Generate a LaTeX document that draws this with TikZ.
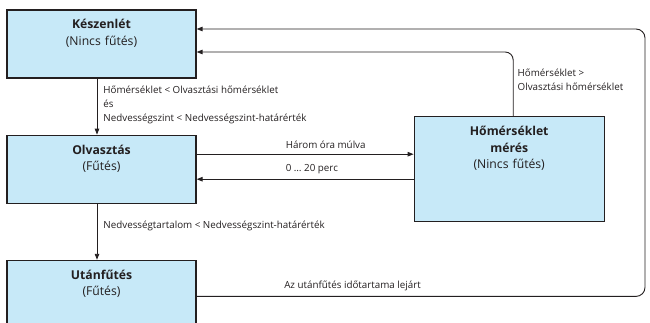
\documentclass[tikz,border=0pt]{standalone}
\usepackage{fontspec}
\setmainfont{Open Sans}
\usetikzlibrary{positioning,arrows.meta}
\definecolor{zustandfill}{RGB}{199,233,248}
\definecolor{linie}{RGB}{35,31,32}

\begin{document}
\begin{tikzpicture}[x=1pt,y=-1pt,node distance=56pt,
    zustand/.style={draw=linie, line width=1.2pt, fill=zustandfill, text=linie,
      text width=189pt, align=center, inner sep=0pt, text height=19pt, text depth=49pt,
      font=\fontsize{12.2}{16.5}\selectfont},
    uebergang/.style={draw=linie, line width=0.9pt, -{Triangle[length=6pt,width=4.5pt]}},
    bed/.style={font=\fontsize{9.8}{14}\selectfont, text=linie, align=left, inner sep=2pt}]
  \useasboundingbox (0,0) rectangle (650,323);
  \node[zustand] (keszenlet) at (101.5,44) {\textbf{Készenlét}\\(Nincs fűtés)};
  \node[zustand, below=of keszenlet] (olvasztas) {\textbf{Olvasztás}\\(Fűtés)};
  \node[zustand, below=of olvasztas] (utanfutes) {\textbf{Utánfűtés}\\(Fűtés)};
  \node[zustand, text width=190pt, text depth=86pt, right=217pt of olvasztas] (meres)
    {\textbf{Hőmérséklet}\\\textbf{mérés}\\(Nincs fűtés)};

  \coordinate (k1) at ([yshift=15pt]keszenlet.east);
  \coordinate (k2) at ([yshift=-8pt]keszenlet.east);
  \coordinate (o1) at ([yshift=15pt]olvasztas.east);
  \coordinate (o2) at ([yshift=-10pt]olvasztas.east);
  \coordinate (u1) at ([yshift=-2pt]utanfutes.east);
  \coordinate (rechts) at (645,0);

  \draw[uebergang] ([xshift=-4.5pt]keszenlet.south) -- ([xshift=-4.5pt]olvasztas.north)
    node[bed, midway, right=4pt, yshift=1.5pt] {Hőmérséklet < Olvasztási hőmérséklet\\és\\Nedvességszint < Nedvességszint-határérték};
  \draw[uebergang] ([xshift=-4.5pt]olvasztas.south) -- ([xshift=-4.5pt]utanfutes.north)
    node[bed, midway, right=4pt, yshift=6pt] {Nedvességtartalom < Nedvességszint-határérték};
  \draw[uebergang] (o1) -- (o1 -| meres.west)
    node[bed, pos=0.4, anchor=south west, yshift=3pt] {Három óra múlva};
  \draw[uebergang] (o2 -| meres.west) -- (o2)
    node[bed, pos=0.6, anchor=south west, yshift=3pt] {0 … 20 perc};
  \draw[uebergang, rounded corners=8pt] ([xshift=4pt]meres.north) |- (k2)
    node[bed, pos=0.28, right=2pt] {Hőmérséklet >\\Olvasztási hőmérséklet};
  \draw[uebergang, rounded corners=9pt] (u1)
    -- node[bed, pos=0.19, anchor=south west, yshift=3pt] {Az utánfűtés időtartama lejárt} (u1 -| rechts)
    -- (rechts |- k1) -- (k1);
\end{tikzpicture}
\end{document}
